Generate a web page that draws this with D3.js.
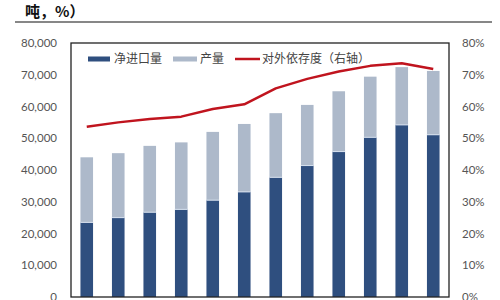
<!DOCTYPE html>
<html>
<head>
<meta charset="utf-8">
<title>净进口量 产量 对外依存度</title>
<script src="https://d3js.org/d3.v7.min.js"></script>
<style>
  body { margin: 0; background: #fff; }
  svg { display: block; }
  .tick text { font-family: Lato, "Open Sans", sans-serif; font-size: 11.5px; fill: #555; }
  .legend text { font-family: "Noto Sans CJK SC", sans-serif; font-size: 12px; fill: #444; }
</style>
</head>
<body>
<svg id="chart" width="500" height="300"></svg>
<script>
// data
let years = ["2007", "2008", "2009", "2010", "2011", "2012", "2013", "2014", "2015", "2016", "2017", "2018"];
let netImport = [23500, 25000, 26700, 27600, 30500, 33100, 37700, 41400, 45800, 50300, 54200, 51100];
let production = [20500, 20300, 20900, 21100, 21500, 21400, 20200, 19100, 19000, 19100, 18200, 20100];
let dependence = [0.536, 0.550, 0.561, 0.568, 0.592, 0.607, 0.657, 0.687, 0.710, 0.728, 0.736, 0.718];
let leftTicks = [0, 10000, 20000, 30000, 40000, 50000, 60000, 70000, 80000];
let rightTicks = [0, 0.1, 0.2, 0.3, 0.4, 0.5, 0.6, 0.7, 0.8];
let legendNames = ["净进口量", "产量", "对外依存度（右轴）"];

let svg = d3.select("#chart");
let plotL = 71, plotR = 449, plotT = 43, plotB = 297;

// header fragment and rule
svg.append("text")
    .attr("x", 25).attr("y", 17)
    .attr("font-family", "Noto Sans CJK SC, sans-serif")
    .attr("font-weight", "bold")
    .attr("font-size", 15)
    .attr("fill", "#111")
    .text("吨，%）");
svg.append("line")
    .attr("x1", 15).attr("x2", 492)
    .attr("y1", 22).attr("y2", 22)
    .attr("stroke", "#111").attr("stroke-width", 1.2);

let x = d3.scaleBand().domain(years).range([plotL, plotR]).paddingInner(0.6).paddingOuter(0.3);
let y = d3.scaleLinear().domain([0, 80000]).range([plotB, plotT]);
let y2 = d3.scaleLinear().domain([0, 0.8]).range([plotB, plotT]);

let stackData = years.map((yr, i) => ({year: yr, imp: netImport[i], prod: production[i]}));
let series = d3.stack().keys(["imp", "prod"])(stackData);
let colors = {imp: "#2f4f7f", prod: "#adb9ca"};

svg.append("g").selectAll("g")
    .data(series)
    .join("g")
    .attr("fill", d => colors[d.key])
    .selectAll("rect")
    .data(d => d)
    .join("rect")
    .attr("x", d => x(d.data.year))
    .attr("width", x.bandwidth())
    .attr("y", d => y(d[1]))
    .attr("height", d => y(d[0]) - y(d[1]));

// thin light seam between the two segments
svg.append("g").selectAll("line")
    .data(stackData)
    .join("line")
    .attr("x1", d => x(d.year)).attr("x2", d => x(d.year) + x.bandwidth())
    .attr("y1", d => y(d.imp)).attr("y2", d => y(d.imp))
    .attr("stroke", "#d6e0ee").attr("stroke-width", 1);

// frame
svg.append("rect")
    .attr("x", plotL).attr("y", plotT)
    .attr("width", plotR - plotL).attr("height", plotB - plotT)
    .attr("fill", "none").attr("stroke", "#222").attr("stroke-width", 1.3);

let line = d3.line()
    .x((d, i) => x(years[i]) + x.bandwidth() / 2)
    .y(d => y2(d));
svg.append("path")
    .datum(dependence)
    .attr("d", line)
    .attr("fill", "none")
    .attr("stroke", "#c0141e")
    .attr("stroke-width", 2.5)
    .attr("stroke-linejoin", "round");

svg.append("g")
    .attr("transform", `translate(${plotL - 11},0)`)
    .call(d3.axisLeft(y).tickValues(leftTicks).tickSize(0).tickFormat(d3.format(",")))
    .call(g => g.select(".domain").remove());

svg.append("g")
    .attr("transform", `translate(${plotR + 10},0)`)
    .call(d3.axisRight(y2).tickValues(rightTicks).tickSize(0).tickFormat(d3.format(".0%")))
    .call(g => g.select(".domain").remove());

// legend
let legend = svg.append("g").attr("class", "legend");
let ly = 59;
legend.append("rect").attr("x", 88).attr("y", ly - 2.5).attr("width", 22).attr("height", 5).attr("fill", colors.imp);
legend.append("text").attr("x", 114).attr("y", ly).attr("dy", "0.35em").text(legendNames[0]);
legend.append("rect").attr("x", 173).attr("y", ly - 2.5).attr("width", 24).attr("height", 5).attr("fill", colors.prod);
legend.append("text").attr("x", 200).attr("y", ly).attr("dy", "0.35em").text(legendNames[1]);
legend.append("line").attr("x1", 235).attr("x2", 260).attr("y1", ly).attr("y2", ly)
    .attr("stroke", "#c0141e").attr("stroke-width", 2.5);
legend.append("text").attr("x", 262).attr("y", ly).attr("dy", "0.35em").text(legendNames[2]);
</script>
</body>
</html>
